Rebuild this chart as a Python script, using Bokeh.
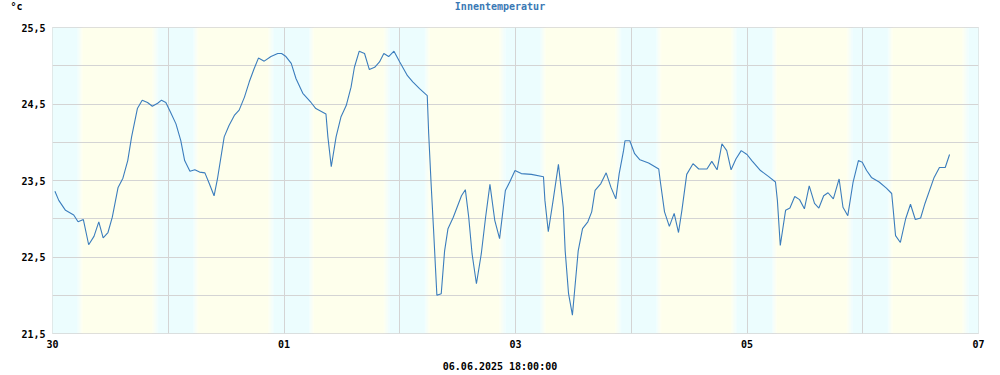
import pandas as pd
from bokeh.plotting import figure
from bokeh.layouts import column
from bokeh.core.properties import value
from bokeh.models import FixedTicker, CustomJSTickFormatter, Range1d, ColumnDataSource, LinearAxis
from bokeh.embed import file_html
from bokeh.resources import INLINE

# ---- data -------------------------------------------------------------
start = pd.Timestamp("2025-05-30 00:00")
end = pd.Timestamp("2025-06-07 00:00")

hours = [0.5, 1.3, 2.7, 4.4, 5.3, 6.4, 7.5, 8.6, 9.6, 10.5, 11.5, 12.4, 13.6, 14.6,
         15.6, 16.4, 17.6, 18.6, 19.7, 20.7, 21.8, 22.6, 23.5, 24.5, 25.6, 26.6,
         27.4, 28.5, 29.5, 30.5, 31.6, 32.5, 33.5, 34.2, 35.6, 36.6, 37.7, 38.7,
         39.8, 40.8, 41.8, 42.7, 43.9, 45.3, 46.7, 47.5, 48.4, 49.5, 50.5, 51.9,
         53.6, 54.6, 56.7, 57.1, 57.8, 58.8, 59.8, 60.9, 61.9, 62.6, 63.6, 64.7,
         65.7, 66.8, 67.8, 68.7, 69.7, 70.8, 72.0, 73.6, 74.7, 76.1, 77.7, 78.0,
         78.5, 79.0, 79.4, 79.7, 80.6, 81.3, 82.0, 83.1, 84.8, 85.6, 86.3, 87.0,
         87.9, 88.9, 89.8, 90.7, 91.7, 92.7, 93.9, 94.8, 95.9, 97.2, 99.3, 101.8,
         102.1, 102.8, 103.8, 104.9, 105.9, 106.3, 107.0, 107.8, 108.2, 109.0,
         109.9, 111.0, 111.8, 112.5, 113.7, 114.8, 115.8, 116.8, 117.5, 118.4,
         118.7, 119.7, 120.7, 121.8, 123.6, 125.7, 126.0, 126.9, 127.9, 128.9,
         129.8, 130.5, 131.5, 132.8, 134.0, 135.7, 136.7, 137.8, 138.8, 139.8,
         140.7, 141.7, 142.8, 144.0, 145.0, 146.8, 148.5, 149.9, 150.3, 150.9,
         152.0, 152.9, 153.9, 154.9, 155.9, 156.9, 158.0, 158.9, 159.9, 160.8,
         161.9, 163.1, 163.9, 164.9, 166.0, 167.1, 167.9, 168.8, 169.8, 171.4,
         172.9, 174.0, 174.3, 174.8, 175.8, 176.9, 177.9, 178.9, 180.0, 180.9,
         182.8, 183.9, 185.1, 186.0]

temps = [23.36, 23.24, 23.11, 23.05, 22.96, 22.99, 22.66, 22.77, 22.96, 22.75, 22.82,
         23.02, 23.41, 23.53, 23.76, 24.07, 24.44, 24.55, 24.52, 24.47, 24.51, 24.55,
         24.52, 24.39, 24.24, 24.02, 23.76, 23.62, 23.64, 23.61, 23.60, 23.46, 23.30,
         23.52, 24.07, 24.22, 24.35, 24.42, 24.59, 24.79, 24.96, 25.10, 25.06, 25.12,
         25.16, 25.16, 25.12, 25.03, 24.83, 24.64, 24.52, 24.44, 24.37, 24.07, 23.68,
         24.07, 24.33, 24.48, 24.72, 24.98, 25.19, 25.16, 24.95, 24.98, 25.05, 25.16,
         25.12, 25.19, 25.05, 24.87, 24.79, 24.70, 24.61, 24.11, 23.46, 22.87, 22.37,
         22.00, 22.02, 22.58, 22.87, 23.02, 23.30, 23.38, 23.02, 22.54, 22.15, 22.54,
         23.02, 23.45, 22.98, 22.74, 23.37, 23.48, 23.63, 23.59, 23.58, 23.55, 23.24,
         22.83, 23.24, 23.71, 23.15, 22.58, 22.02, 21.74, 22.02, 22.58, 22.87, 22.96,
         23.09, 23.37, 23.46, 23.60, 23.41, 23.26, 23.59, 23.89, 24.02, 24.02, 23.85,
         23.77, 23.73, 23.65, 23.50, 23.09, 22.90, 23.07, 22.82, 23.11, 23.58, 23.72,
         23.65, 23.65, 23.75, 23.64, 23.98, 23.89, 23.64, 23.78, 23.89, 23.84, 23.76,
         23.63, 23.55, 23.48, 23.24, 22.65, 23.11, 23.14, 23.29, 23.25, 23.13, 23.43,
         23.20, 23.14, 23.30, 23.34, 23.26, 23.52, 23.15, 23.04, 23.48, 23.76, 23.74,
         23.63, 23.54, 23.48, 23.40, 23.33, 23.13, 22.78, 22.69, 23.00, 23.19, 22.99,
         23.01, 23.20, 23.54, 23.67, 23.67, 23.84]

y_ticks = [21.5, 22.5, 23.5, 24.5, 25.5]
x_tick_days = [0, 2, 4, 6, 8]
title_text = "Innentemperatur"
unit_text = "°c"
stamp_text = "06.06.2025 18:00:00"

# day / night shading (hours of the day)
night_end_h = 5.2
dawn_end_h = 6.2
dusk_start_h = 20.7
night_start_h = 21.9

# ---- styling ----------------------------------------------------------
NIGHT = (236, 253, 254)
DAY = (254, 255, 236)
GRID = "#d4d4d4"
LINE = "#3b7dbd"
FONT = "DejaVu Sans Mono"

def ms(t):
    return (t - pd.Timestamp("1970-01-01")).total_seconds() * 1000.0

def mix(a, b, f):
    return "#%02x%02x%02x" % tuple(int(round(a[i] + (b[i] - a[i]) * f)) for i in range(3))

lefts, rights, colors = [], [], []
def add_band(h0, h1, col):
    lefts.append(start + pd.Timedelta(hours=h0))
    rights.append(start + pd.Timedelta(hours=h1))
    colors.append(col)

N = 8
for d in range(-1, 9):
    base = d * 24
    add_band(base + night_start_h - 24, base + night_end_h, mix(NIGHT, NIGHT, 0))
    for k in range(N):
        a = night_end_h + (dawn_end_h - night_end_h) * k / N
        b = night_end_h + (dawn_end_h - night_end_h) * (k + 1) / N
        add_band(base + a, base + b, mix(NIGHT, DAY, (k + 0.5) / N))
    add_band(base + dawn_end_h, base + dusk_start_h, mix(DAY, DAY, 0))
    for k in range(N):
        a = dusk_start_h + (night_start_h - dusk_start_h) * k / N
        b = dusk_start_h + (night_start_h - dusk_start_h) * (k + 1) / N
        add_band(base + a, base + b, mix(DAY, NIGHT, (k + 0.5) / N))

W = 1000
FL, FR = 52, 978          # frame left/right (page px)
FT, FB = 27, 333          # frame top/bottom (page px)
TOP_H = 14                # strip with title and unit
BOT_H = 20                # strip with the time stamp
MAIN_H = 375 - TOP_H - BOT_H


def text_strip(height):
    f = figure(width=W, height=height, x_range=Range1d(FL, FR), y_range=Range1d(height, 0),
               output_backend="svg", toolbar_location=None, min_border=0,
               x_axis_location=None, y_axis_location=None, title=None)
    f.grid.visible = False
    f.outline_line_color = None
    f.background_fill_color = "white"
    f.border_fill_color = "white"
    return f


def put(f, px, py, text, align, color):
    f.text(x=[px], y=[py], text=[text], text_align=align, text_baseline="middle",
           text_font=value(FONT), text_font_style="bold", text_font_size="10px",
           text_color=color)


top = text_strip(TOP_H)
put(top, 499.5, 6, title_text, "center", "#3a78b4")
# the unit sits left of the frame: render it as the single tick label of a bare axis
unit_axis = LinearAxis(ticker=FixedTicker(ticks=[5.5]),
                       formatter=CustomJSTickFormatter(code="return '%s';" % unit_text),
                       axis_line_color=None, major_tick_line_color=None,
                       minor_tick_line_color=None, major_tick_in=0, major_tick_out=0,
                       major_label_standoff=30, major_label_text_font=FONT,
                       major_label_text_font_style="bold",
                       major_label_text_font_size="10px", major_label_text_color="black")
top.add_layout(unit_axis, "left")

bottom = text_strip(BOT_H)
put(bottom, 499.5, 366 - (TOP_H + MAIN_H), stamp_text, "center", "black")

p = figure(width=W, height=MAIN_H, x_axis_type="datetime",
           x_range=Range1d(start, end), y_range=Range1d(21.5, 25.5),
           output_backend="svg", toolbar_location=None, title=None,
           min_border_left=FL, min_border_right=W - FR, min_border_top=FT - TOP_H,
           min_border_bottom=TOP_H + MAIN_H - FB)
p.background_fill_color = "white"
p.border_fill_color = "white"
p.outline_line_color = GRID
p.outline_line_width = 1

bands = ColumnDataSource(dict(left=lefts, right=rights, color=colors))
r = p.quad(left="left", right="right", bottom=21.5, top=25.5, fill_color="color",
           line_color=None, source=bands)
r.level = "image"

src = ColumnDataSource(dict(t=[start + pd.Timedelta(hours=h) for h in hours], v=temps))
p.line("t", "v", source=src, line_color=LINE, line_width=1.1)

# axes
p.yaxis.ticker = FixedTicker(ticks=y_ticks)
p.yaxis.formatter = CustomJSTickFormatter(code="return tick.toFixed(1).replace('.', ',');")
p.xaxis.ticker = FixedTicker(ticks=[ms(start + pd.Timedelta(days=d)) for d in x_tick_days])
p.xaxis.formatter = CustomJSTickFormatter(
    code="const d = new Date(tick); return String(d.getUTCDate()).padStart(2, '0');")
for ax in (p.xaxis, p.yaxis):
    ax.axis_line_color = None
    ax.major_tick_line_color = None
    ax.minor_tick_line_color = None
    ax.major_tick_out = 0
    ax.major_tick_in = 0
    ax.major_label_text_font = FONT
    ax.major_label_text_font_style = "bold"
    ax.major_label_text_font_size = "10px"
    ax.major_label_text_color = "black"
p.yaxis.major_label_standoff = 7
p.xaxis.major_label_standoff = 6

# grid
p.ygrid.ticker = FixedTicker(ticks=[21.5 + 0.5 * i for i in range(9)])
p.xgrid.ticker = FixedTicker(ticks=[ms(start + pd.Timedelta(days=d)) for d in range(9)])
p.grid.grid_line_color = GRID
p.grid.grid_line_width = 1

layout = column(top, p, bottom, spacing=0)
open("out.html", "w").write(file_html(layout, INLINE))
